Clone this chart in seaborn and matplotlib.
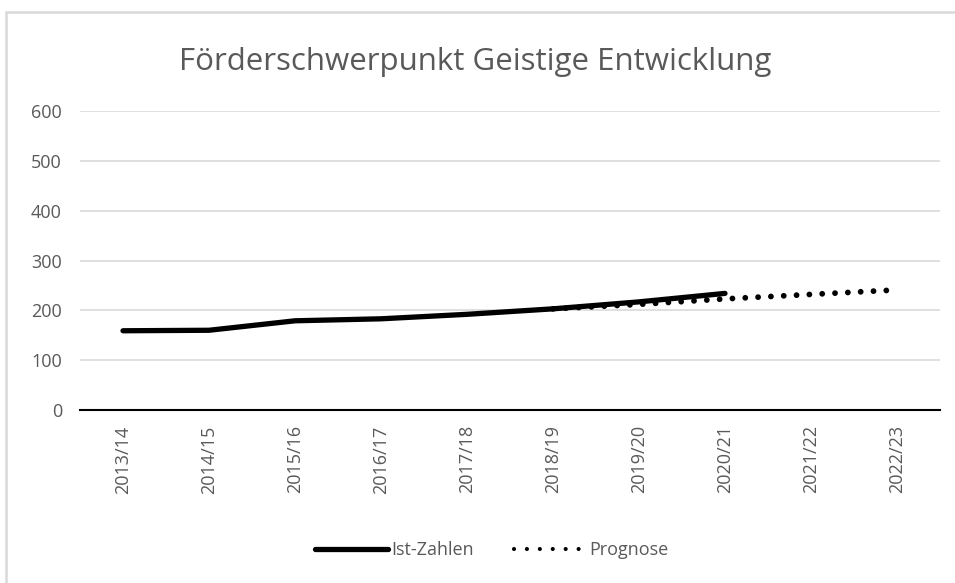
import matplotlib
matplotlib.use("Agg")
import matplotlib.pyplot as plt
import seaborn as sns
import pandas as pd
from matplotlib.lines import Line2D
from matplotlib.patches import Rectangle

years = ["2013/14", "2014/15", "2015/16", "2016/17", "2017/18",
         "2018/19", "2019/20", "2020/21", "2021/22", "2022/23"]
ist_years = years[:8]
ist_values = [159, 160, 179, 183, 192, 203, 217, 234]
prog_years = years[5:]
prog_values = [203, 212, 223, 232, 241]
yticks = [0, 100, 200, 300, 400, 500, 600]

sns.set_theme(style="white")
plt.rcParams["font.family"] = ["Open Sans", "DejaVu Sans"]

fig = plt.figure(figsize=(9.55, 5.83), dpi=100)
ax = fig.add_axes([80/955, 1-410/583, 860/955, 299/583])

df_ist = pd.DataFrame({"Jahr": ist_years, "Wert": ist_values})
df_prog = pd.DataFrame({"Jahr": prog_years, "Wert": prog_values})

x_index = {y: i for i, y in enumerate(years)}
df_ist["x"] = df_ist["Jahr"].map(x_index)
df_prog["x"] = df_prog["Jahr"].map(x_index)

sns.lineplot(data=df_prog, x="x", y="Wert", ax=ax, color="black",
             linewidth=4.2, linestyle=(0, (0.001, 2.2)),
             dash_capstyle="round", zorder=3)
sns.lineplot(data=df_ist, x="x", y="Wert", ax=ax, color="black",
             linewidth=3.8, solid_capstyle="round", zorder=4)

ax.set_xlim(-0.5, len(years) - 0.5)
ax.set_ylim(0, 600)
ax.set_xticks(range(len(years)))
ax.set_xticklabels(years, rotation=90, color="#595959", fontsize=13)
ax.set_yticks(yticks)
ax.set_yticklabels([str(v) for v in yticks], color="#595959", fontsize=13)
ax.tick_params(axis="both", length=0)
ax.tick_params(axis="x", pad=11)
ax.tick_params(axis="y", pad=13)
ax.set_xlabel("")
ax.set_ylabel("")
for s in ["top", "right", "left"]:
    ax.spines[s].set_visible(False)
ax.spines["bottom"].set_color("black")
ax.spines["bottom"].set_linewidth(1.5)
ax.grid(axis="y", color="#d9d9d9", linewidth=1.2)
ax.set_axisbelow(True)
for gl in ax.get_ygridlines()[:1]:
    gl.set_visible(False)

fig.text(475/955, 1-62/583, "Förderschwerpunkt Geistige Entwicklung",
         ha="center", va="center", fontsize=22.5, color="#595959")

handles = [Line2D([0], [0], color="black", linewidth=3.8, solid_capstyle="round"),
           Line2D([0], [0], color="black", linewidth=3.0,
                  linestyle=(0, (0.001, 3.1)), dash_capstyle="round")]
leg = fig.legend(handles, ["Ist-Zahlen", "Prognose"], loc="center",
                 bbox_to_anchor=(492/955, 1-550/583), ncol=2, frameon=False,
                 fontsize=13, handlelength=4.0, handletextpad=0.2,
                 columnspacing=2.2)
for t in leg.get_texts():
    t.set_color("#595959")

fig.patches.append(Rectangle((6/955, -0.5), 2, 1.5-12/583, transform=fig.transFigure,
                             fill=False, edgecolor="#d9d9d9", linewidth=1.8))

fig.savefig("out.png", dpi=100)
